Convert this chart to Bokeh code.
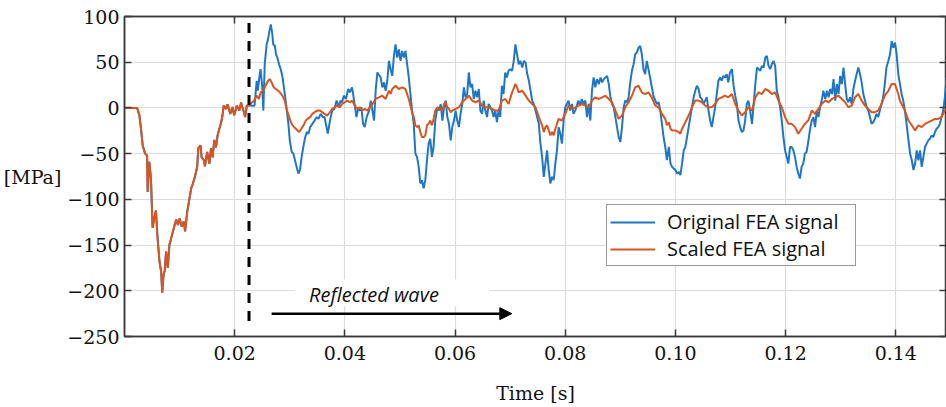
from bokeh.plotting import figure
from bokeh.models import (Range1d, FixedTicker, LinearAxis, Label, Legend, LegendItem,
                          Arrow, NormalHead, BoxAnnotation, CustomLabelingPolicy)
from bokeh.embed import file_html
from bokeh.resources import INLINE

# ---------------- data (time in ms, stress in MPa) ----------------
# incident part: identical for both signals (before reflection)
t_incident_ms = [0, 2.3, 2.7, 3.0, 3.3, 3.75, 4.1, 4.2, 4.5, 4.8,
                 5.1, 5.4, 5.7, 6.0, 6.35, 6.65, 6.85, 7.1, 7.3, 7.55,
                 7.85, 8.15, 8.5, 9.1, 9.4, 9.7, 10.0, 10.4, 10.75, 11.0,
                 11.4, 11.8, 12.1, 12.4, 12.8, 13.2, 13.4, 13.8, 14.0, 14.4,
                 14.6, 15.0, 15.4, 15.7, 16.0, 16.3, 16.6, 16.9, 17.2, 17.5,
                 17.8, 18.0, 18.4, 18.7, 19.2, 19.6, 19.9, 20.4, 20.85, 21.15,
                 21.6, 21.9, 22.2, 22.6]
p_incident = [0, 0, -8, -23, -41, -50, -52, -92, -59, -77,
              -131, -121, -112, -142, -168, -179, -202, -182, -178, -157,
              -175, -150, -142, -128, -122, -128, -121, -130, -124, -135,
              -113, -99, -88, -83, -75, -64, -44, -41, -54, -57,
              -64, -48, -61, -44, -54, -35, -43, -30, -23, -17,
              -8, 2.5, -1, 4, -6.5, 1, -8, 2.5, -3, 6,
              -3, -10, 2.5, 3]

# original FEA signal after the reflection
t_original_ms = [23.2, 23.6, 24.0, 24.2, 24.5, 24.7, 25.0, 25.2, 25.45, 25.8,
                 26.05, 26.3, 26.55, 26.8, 27.0, 27.3, 27.5, 27.75, 28.05, 28.35,
                 28.65, 28.85, 29.1, 29.4, 29.75, 30.0, 30.35, 30.65, 30.95, 31.25,
                 31.55, 31.85, 32.15, 32.45, 32.8, 33.1, 33.4, 33.7, 34.1, 34.5,
                 34.9, 35.2, 35.6, 36.0, 36.3, 36.6, 36.9, 37.3, 37.7, 38.1,
                 38.5, 38.9, 39.2, 39.5, 39.8, 40.2, 40.6, 40.9, 41.3, 41.5,
                 41.8, 42.1, 42.4, 42.7, 43.0, 43.3, 43.6, 43.95, 44.4, 44.7,
                 45.0, 45.3, 45.6, 45.9, 46.2, 46.5, 46.8, 47.1, 47.4, 47.7,
                 48.0, 48.3, 48.6, 48.9, 49.2, 49.5, 49.8, 50.1, 50.4, 50.7,
                 51.0, 51.3, 51.6, 51.9, 52.2, 52.5, 52.8, 53.1, 53.4, 53.7,
                 54.0, 54.3, 54.6, 54.9, 55.2, 55.5, 55.8, 56.1, 56.4, 56.8,
                 57.1, 57.4, 57.7, 58.0, 58.3, 58.6, 58.9, 59.2, 59.5, 59.8,
                 60.1, 60.4, 60.7, 61.0, 61.3, 61.6, 61.9, 62.2, 62.5, 62.8,
                 63.1, 63.4, 63.7, 64.0, 64.3, 64.6, 64.9, 65.2, 65.5, 65.8,
                 66.1, 66.4, 66.7, 67.0, 67.3, 67.6, 67.9, 68.2, 68.5, 68.8,
                 69.1, 69.4, 69.7, 70.0, 70.35, 70.65, 70.95, 71.25, 71.55, 71.85,
                 72.2, 72.5, 72.8, 73.1, 73.4, 73.7, 74.0, 74.3, 74.6, 74.9,
                 75.2, 75.5, 75.8, 76.1, 76.4, 76.7, 77.0, 77.3, 77.6, 77.9,
                 78.2, 78.5, 78.8, 79.1, 79.4, 79.7, 80.0, 80.3, 80.6, 80.9,
                 81.2, 81.5, 81.8, 82.1, 82.4, 82.7, 83.0, 83.3, 83.65, 83.95,
                 84.25, 84.55, 84.85, 85.15, 85.45, 85.75, 86.1, 86.4, 86.7, 87.0,
                 87.3, 87.6, 87.9, 88.2, 88.5, 88.8, 89.1, 89.4, 89.7, 90.0,
                 90.3, 90.6, 90.9, 91.2, 91.5, 91.8, 92.1, 92.4, 92.7, 93.0,
                 93.3, 93.6, 93.9, 94.2, 94.5, 94.8, 95.1, 95.4, 96.0, 96.35,
                 96.65, 96.95, 97.25, 97.55, 97.85, 98.15, 98.45, 98.8, 99.1, 99.4,
                 99.7, 100.0, 100.3, 100.6, 100.9, 101.2, 101.5, 101.8, 102.1, 102.4,
                 102.7, 103.0, 103.3, 103.6, 103.9, 104.2, 104.5, 104.8, 105.1, 105.4,
                 105.7, 106.0, 106.3, 106.6, 106.9, 107.2, 107.5, 107.8, 108.1, 108.4,
                 108.7, 109.0, 109.3, 109.6, 109.9, 110.25, 110.55, 110.85, 111.15, 111.45,
                 111.75, 112.05, 112.35, 112.65, 112.95, 113.25, 113.55, 113.9, 114.2, 114.5,
                 114.8, 115.1, 115.4, 115.7, 116.0, 116.3, 116.6, 116.9, 117.2, 117.5,
                 117.8, 118.1, 118.4, 118.7, 119.0, 119.3, 119.6, 119.9, 120.2, 120.5,
                 120.8, 121.1, 121.4, 121.7, 122.0, 122.3, 122.6, 122.9, 123.2, 123.5,
                 123.8, 124.1, 124.4, 124.75, 125.05, 125.35, 125.65, 125.95, 126.25, 126.55,
                 126.85, 127.2, 127.5, 127.8, 128.1, 128.4, 128.7, 129.0, 129.3, 129.6,
                 129.9, 130.2, 130.5, 130.8, 131.1, 131.4, 131.7, 132.0, 132.3, 132.6,
                 132.9, 133.2, 133.5, 133.8, 134.1, 134.4, 134.7, 135.0, 135.3, 135.6,
                 135.9, 136.2, 136.5, 136.8, 137.1, 137.4, 137.7, 138.0, 138.3, 138.65,
                 138.95, 139.25, 139.55, 139.85, 140.15, 140.45, 140.75, 141.05, 141.35, 141.65,
                 141.95, 142.3, 142.6, 142.9, 143.2, 143.5, 143.8, 144.1, 144.4, 144.7,
                 145.0, 145.3, 145.6, 145.9, 146.2, 146.5, 146.8, 147.1, 147.4, 147.7,
                 148.0, 148.3, 148.6, 148.9, 149.2]
p_original = [2.5, 2.5, 29.7, 18.8, 35.0, 42.4, 22.5, -2.9, 47.8, 69.6,
              75.0, 84.0, 91.3, 82.2, 69.6, 67.8, 58.7, 55.0, 47.8, 42.4,
              35.0, 26.0, 15.2, 0.7, -17.4, -35.5, -48.0, -50.0, -57.2, -64.5,
              -71.7, -68.0, -53.6, -42.7, -31.9, -26.4, -28.2, -21.0, -17.4, -13.8,
              -10.0, -12.0, -6.5, -10.0, -10.0, -19.0, -28.0, -13.8, -2.9, -1.0,
              8.0, 0.7, 8.0, 6.2, 13.4, 9.8, 20.7, 17.0, 22.5, 15.2,
              2.5, -10.0, -1.0, -2.9, 0.7, -17.4, -21.0, -10.0, -2.9, 8.0,
              -2.9, -13.8, 20.0, 38.8, 36.0, 33.3, 22.5, 27.9, 18.8, 29.7,
              51.5, 42.4, 35.1, 56.9, 69.6, 55.1, 64.1, 51.5, 62.3, 55.1,
              62.3, 47.8, 33.3, 15.2, -2.9, -17.4, -50.0, -53.6, -64.5, -82.6,
              -79.0, -88.0, -79.0, -57.2, -39.1, -33.7, -53.6, -42.7, -13.8, 0.7,
              -2.9, 4.3, -13.8, 0.7, 8.0, -10.0, -17.4, -35.5, -21.0, -13.8,
              -2.9, -13.8, -21.0, -6.5, 4.3, 22.5, 11.6, 15.2, 38.8, 22.5,
              26.1, 9.8, 18.8, 11.6, 20.7, -2.9, -6.5, 8.0, -2.9, -10.0,
              4.3, 0.7, -2.9, -10.0, -2.9, -15.6, -2.9, -10.0, 24.3, 15.2,
              38.8, 33.3, 40.6, 42.4, 40.6, 51.5, 69.6, 58.7, 47.8, 51.5,
              44.2, 51.5, 49.6, 37.0, 29.7, 18.8, 8.0, 4.3, -2.9, -10.0,
              -17.4, -39.0, -53.6, -75.4, -60.9, -46.4, -68.0, -82.6, -75.4, -79.0,
              -60.9, -46.4, -21.0, -28.2, -39.0, -13.8, 0.7, 4.3, 8.0, -2.9,
              4.3, -6.5, -2.9, 2.5, 8.0, 2.5, 9.8, 4.3, 8.0, -10.0,
              4.3, -13.8, 18.8, 33.3, 22.5, 31.5, 26.1, 33.3, 27.9, 31.5,
              33.3, 35.1, 26.1, 11.6, 4.3, 0.7, -10.0, -21.0, -31.9, -37.3,
              -21.0, 0.7, 8.0, 6.2, 11.6, 27.9, 40.6, 47.8, 58.7, 60.5,
              65.9, 67.8, 58.7, 42.4, 37.0, 51.5, 42.4, 33.3, 13.4, 8.0,
              4.3, 6.2, -2.9, -17.4, -31.9, -42.7, -57.2, -42.7, -60.9, -64.5,
              -66.3, -68.0, -71.7, -69.9, -73.5, -60.9, -46.4, -42.7, -31.9, -21.0,
              -10.0, 0.7, 11.6, 18.8, 24.3, 20.7, 11.6, 9.8, 4.3, 8.0,
              11.6, -2.9, -13.8, -21.0, -10.0, 0.7, 15.2, 29.7, 33.3, 29.7,
              35.1, 33.3, 37.0, 27.9, 38.8, 42.4, 24.3, 13.4, 4.3, -13.8,
              -21.0, -26.4, -24.6, -13.8, 4.3, 8.0, -2.9, -17.4, 4.3, 26.1,
              44.2, 42.4, 40.6, 46.0, 44.2, 55.1, 56.9, 46.0, 42.4, 47.8,
              51.5, 46.0, 18.8, 11.6, 0.7, -13.8, -31.9, -46.4, -53.6, -60.9,
              -42.7, -42.7, -46.4, -53.6, -64.5, -71.7, -77.2, -64.5, -60.9, -50.0,
              -48.2, -37.3, -24.6, -13.8, -10.0, -21.0, -2.9, -10.0, 0.7, 8.0,
              18.8, 9.8, 18.8, 11.6, 20.7, 15.2, 31.5, 8.0, 26.1, 15.2,
              35.1, 26.1, 44.2, 26.1, 9.8, 6.2, 11.6, 4.3, 20.7, 29.7,
              37.0, 44.2, 37.0, 27.9, 15.2, 8.0, 0.7, -2.9, -10.0, -17.4,
              -15.6, -12.0, -6.5, -10.0, -2.9, 4.3, 11.6, 26.1, 44.2, 51.5,
              58.7, 73.2, 65.9, 71.4, 58.7, 37.0, 26.1, 15.2, 8.0, -2.9,
              -17.4, -35.5, -50.0, -57.2, -68.0, -60.9, -46.4, -57.2, -46.4, -64.5,
              -53.6, -42.7, -39.0, -35.5, -33.7, -30.0, -31.9, -26.4, -22.8, -21.0,
              -17.4, -10.0, -2.9, 11.6, 33.3]

# scaled FEA signal after the reflection
t_scaled_ms = [23.5, 24.0, 24.4, 24.7, 25.2, 25.6, 26.05, 26.4, 26.7, 27.1,
               27.45, 27.9, 28.2, 28.65, 29.1, 29.4, 29.9, 30.2, 30.5, 30.8,
               31.1, 31.4, 31.7, 32.1, 32.5, 32.9, 33.2, 33.7, 34.1, 34.5,
               35.0, 35.5, 35.9, 36.3, 36.8, 37.3, 37.7, 38.1, 38.6, 39.1,
               39.5, 40.0, 40.4, 40.9, 41.3, 41.8, 42.3, 42.7, 43.2, 43.6,
               44.1, 44.5, 45.0, 45.6, 46.2, 46.8, 47.4, 48.0, 48.3, 48.6,
               49.2, 49.8, 50.4, 51.0, 51.3, 51.6, 51.9, 52.2, 52.5, 52.8,
               53.1, 53.4, 53.7, 54.0, 54.3, 54.6, 54.9, 55.2, 55.5, 55.8,
               56.1, 56.4, 56.8, 57.1, 57.7, 58.0, 58.3, 58.6, 58.9, 59.2,
               59.5, 60.1, 60.7, 61.3, 61.9, 62.5, 63.1, 63.7, 64.3, 64.9,
               65.5, 66.1, 66.7, 67.3, 67.9, 68.5, 69.1, 69.7, 70.35, 70.95,
               71.25, 71.55, 72.2, 72.8, 73.4, 74.0, 74.6, 75.2, 75.8, 76.1,
               76.4, 76.7, 77.0, 77.3, 77.6, 77.9, 78.2, 78.5, 78.8, 79.4,
               80.0, 80.6, 81.2, 81.8, 82.4, 83.0, 83.65, 84.25, 84.85, 85.45,
               86.1, 86.7, 87.3, 87.9, 88.5, 89.1, 89.7, 90.3, 90.9, 91.5,
               92.1, 92.7, 93.3, 93.9, 94.5, 95.1, 95.7, 96.35, 96.95, 97.55,
               98.15, 98.45, 98.8, 99.1, 99.4, 100.0, 100.6, 100.9, 101.2, 101.8,
               102.4, 103.0, 103.6, 104.2, 104.8, 105.4, 106.0, 106.6, 107.2, 107.8,
               108.4, 109.0, 109.6, 110.25, 110.85, 111.45, 112.05, 112.65, 113.25, 113.9,
               114.5, 115.1, 115.7, 116.3, 116.9, 117.5, 118.1, 118.7, 119.3, 119.9,
               120.5, 121.1, 121.7, 122.3, 122.9, 123.5, 124.1, 124.75, 125.35, 125.95,
               126.55, 127.2, 127.8, 128.4, 129.0, 129.6, 130.2, 130.8, 131.4, 132.0,
               132.6, 133.2, 133.8, 134.4, 135.0, 135.6, 136.2, 136.8, 137.4, 138.0,
               138.65, 139.25, 139.85, 140.45, 140.75, 141.05, 141.65, 142.3, 142.9, 143.5,
               144.1, 144.7, 145.3, 145.9, 146.5, 147.1, 147.7, 148.3, 148.9, 149.2]
p_scaled = [8.0, 13.4, 9.8, 17.0, 18.8, 24.3, 29.7, 31.5, 27.9, 22.5,
            20.7, 18.8, 17.0, 13.4, 8.0, -1.0, -10.0, -15.6, -19.0, -21.0,
            -22.8, -24.6, -26.4, -22.8, -19.0, -13.8, -12.0, -10.0, -6.5, -4.7,
            -2.9, -2.9, -4.7, -6.5, -8.3, -4.7, -1.0, 0.7, 2.5, 0.7,
            4.3, 6.2, 8.0, 6.2, 8.0, 2.5, -1.0, 0.7, -2.9, -1.0,
            -2.9, 0.7, 4.3, 9.8, 11.6, 13.4, 9.8, 18.8, 15.2, 20.7,
            24.3, 20.7, 22.5, 20.7, 15.2, 9.8, 2.5, -4.7, -10.0, -19.0,
            -21.0, -19.0, -26.4, -31.9, -31.9, -30.0, -19.0, -17.4, -13.8, -19.0,
            -12.0, -2.9, 0.7, -1.0, -2.9, 4.3, 6.2, 0.7, -1.0, -4.7,
            -2.9, -1.0, 0.7, 6.2, 9.8, 13.4, 8.0, 6.2, 8.0, 2.5,
            0.7, 0.7, -1.0, -2.9, -2.9, 8.0, 9.8, 4.3, 17.0, 26.1,
            22.5, 17.0, 18.8, 13.4, 8.0, 4.3, 0.7, -10.0, -19.0, -26.4,
            -21.0, -19.0, -24.6, -30.0, -26.4, -30.0, -22.8, -17.4, -12.0, -13.8,
            -6.5, 2.5, -1.0, 0.7, 2.5, 4.3, 2.5, 0.7, 8.0, 11.6,
            9.8, 11.6, 13.4, 9.8, 6.2, -2.9, -12.0, -8.3, 0.7, 6.2,
            13.4, 22.5, 24.3, 17.0, 15.2, 17.0, 11.6, 2.5, 0.7, -6.5,
            -12.0, -19.0, -15.6, -22.8, -24.6, -24.6, -26.4, -28.2, -22.8, -15.6,
            -8.3, 0.7, 8.0, 8.0, 6.2, 2.5, 0.7, 0.7, 4.3, 9.8,
            11.6, 13.4, 11.6, 15.2, 4.3, -2.9, -8.3, -4.7, 0.7, -2.9,
            11.6, 17.0, 15.2, 20.7, 18.8, 15.2, 17.0, 8.0, 0.7, -10.0,
            -17.4, -17.4, -21.0, -28.2, -22.8, -17.4, -13.8, -2.9, -6.5, -1.0,
            4.3, 8.0, 6.2, 9.8, 11.6, 13.4, 9.8, 6.2, 0.7, 2.5,
            11.6, 15.2, 8.0, 2.5, -1.0, -4.7, -4.7, -2.9, 4.3, 13.4,
            18.8, 26.1, 26.1, 15.2, 8.0, 4.3, -2.9, -13.8, -19.0, -24.6,
            -19.0, -21.0, -17.4, -15.6, -13.8, -12.0, -12.0, -10.0, -2.9, -1.0]

x_ticks = [0.02, 0.04, 0.06, 0.08, 0.10, 0.12, 0.14]
x_tick_labels = ["0.02", "0.04", "0.06", "0.08", "0.10", "0.12", "0.14"]
y_ticks = [-250, -200, -150, -100, -50, 0, 50, 100]
y_tick_labels = ["\u2212250", "\u2212200", "\u2212150", "\u2212100", "\u221250", "0", "50", "100"]

series_names = ["Original FEA signal", "Scaled FEA signal"]
series_colors = ["#1f77c4", "#d9541e"]

reflection_time = 0.0226      # dashed marker of the reflection
reflection_top = 93
reflection_bottom = -238
arrow_t_start, arrow_t_end, arrow_level = 0.0267, 0.0703, -225
text_t, text_level = 0.0335, -204

# ---------------- build ----------------
t_orig = [t / 1000 for t in t_incident_ms + t_original_ms]
v_orig = p_incident + p_original
t_scal = [t / 1000 for t in t_incident_ms + t_scaled_ms]
v_scal = p_incident + p_scaled

AX = "#3a3a3a"
SERIF = "DejaVu Serif"
SANS = "Open Sans"

p = figure(width=946, height=407, output_backend="svg", toolbar_location=None,
           x_range=Range1d(0, 0.1492), y_range=Range1d(-250, 100),
           min_border_left=122, min_border_right=0, min_border_top=16, min_border_bottom=71,
           background_fill_color="white", border_fill_color="white")
p.outline_line_color = AX
p.outline_line_width = 1.5

r_orig = p.line(t_orig, v_orig, line_color=series_colors[0], line_width=2)
r_scal = p.line(t_scal, v_scal, line_color=series_colors[1], line_width=2)

xa = p.xaxis[0]
xa.ticker = FixedTicker(ticks=x_ticks)
xa.major_label_overrides = {tk: lb for tk, lb in zip(x_ticks, x_tick_labels)}
ya = p.yaxis[0]
ya.ticker = FixedTicker(ticks=y_ticks)
ya.major_label_overrides = {tk: lb for tk, lb in zip(y_ticks, y_tick_labels)}
for ax in (xa, ya):
    ax.axis_line_color = AX
    ax.axis_line_width = 1.5
    ax.major_tick_line_color = AX
    ax.major_tick_line_width = 1.5
    ax.major_tick_in = 7
    ax.major_tick_out = 0
    ax.minor_tick_line_color = None
    ax.major_label_text_font = SERIF
    ax.major_label_text_font_size = "19px"
    ax.major_label_text_color = "#111111"
xa.major_label_standoff = 9
ya.major_label_standoff = 5
xa.axis_label = "Time [s]"
xa.axis_label_text_font = SERIF
xa.axis_label_text_font_size = "19px"
xa.axis_label_text_font_style = "normal"
xa.axis_label_text_color = "#111111"
xa.axis_label_standoff = 19
ya.axis_label = "[MPa]"
ya.axis_label_orientation = "horizontal"
ya.axis_label_text_font = SERIF
ya.axis_label_text_font_size = "19px"
ya.axis_label_text_font_style = "normal"
ya.axis_label_text_color = "#111111"
ya.axis_label_standoff = 3

hide_all = CustomLabelingPolicy(code="""
const keep = []
for (const i of indices) keep.push(i)
for (const i of keep) indices.unset(i)
return indices
""")

def frame_axis(ticks):
    return LinearAxis(ticker=FixedTicker(ticks=ticks), major_label_text_font_size="0px",
                      major_label_policy=hide_all, major_label_standoff=0,
                      axis_label_standoff=0,
                      major_tick_in=7, major_tick_out=0,
                      axis_line_color=AX, axis_line_width=1.5, major_tick_line_color=AX,
                      major_tick_line_width=1.5, minor_tick_line_color=None)

p.add_layout(frame_axis(x_ticks), "above")
p.add_layout(frame_axis(y_ticks), "right")

p.xgrid.ticker = FixedTicker(ticks=x_ticks)
p.ygrid.ticker = FixedTicker(ticks=y_ticks)
for g in (p.xgrid, p.ygrid):
    g.grid_line_color = "#dcdcdc"
    g.grid_line_width = 1.2

# white box behind the annotation text
p.add_layout(BoxAnnotation(left=0.031, right=0.0662, top=-187.7, bottom=-217,
                           fill_color="white", fill_alpha=1.0, line_alpha=0))

# dashed reflection marker
p.add_layout(Arrow(end=None, x_start=reflection_time, y_start=reflection_top,
                   x_end=reflection_time, y_end=reflection_bottom,
                   line_color="black", line_width=3, line_dash="10 8"))

# reflected wave arrow + text
p.add_layout(Arrow(end=NormalHead(size=12, fill_color="black", line_color="black"),
                   x_start=arrow_t_start, y_start=arrow_level,
                   x_end=arrow_t_end, y_end=arrow_level,
                   line_color="black", line_width=2.5))
p.add_layout(Label(x=text_t, y=text_level, text="Reflected wave", text_font=SANS,
                   text_font_style="italic", text_font_size="20px",
                   text_baseline="middle", text_align="left", text_color="#111111"))

legend = Legend(items=[LegendItem(label=series_names[0], renderers=[r_orig]),
                       LegendItem(label=series_names[1], renderers=[r_scal])],
                location=(482, 70), border_line_color="#333333", border_line_width=1.5,
                background_fill_color="white", background_fill_alpha=1.0,
                padding=3, spacing=0, margin=0, glyph_width=45, glyph_height=20,
                label_height=20, label_width=185, label_standoff=12, label_text_font=SANS,
                label_text_font_size="20px", label_text_color="#111111")
p.add_layout(legend)

open("out.html", "w").write(file_html(p, INLINE))
